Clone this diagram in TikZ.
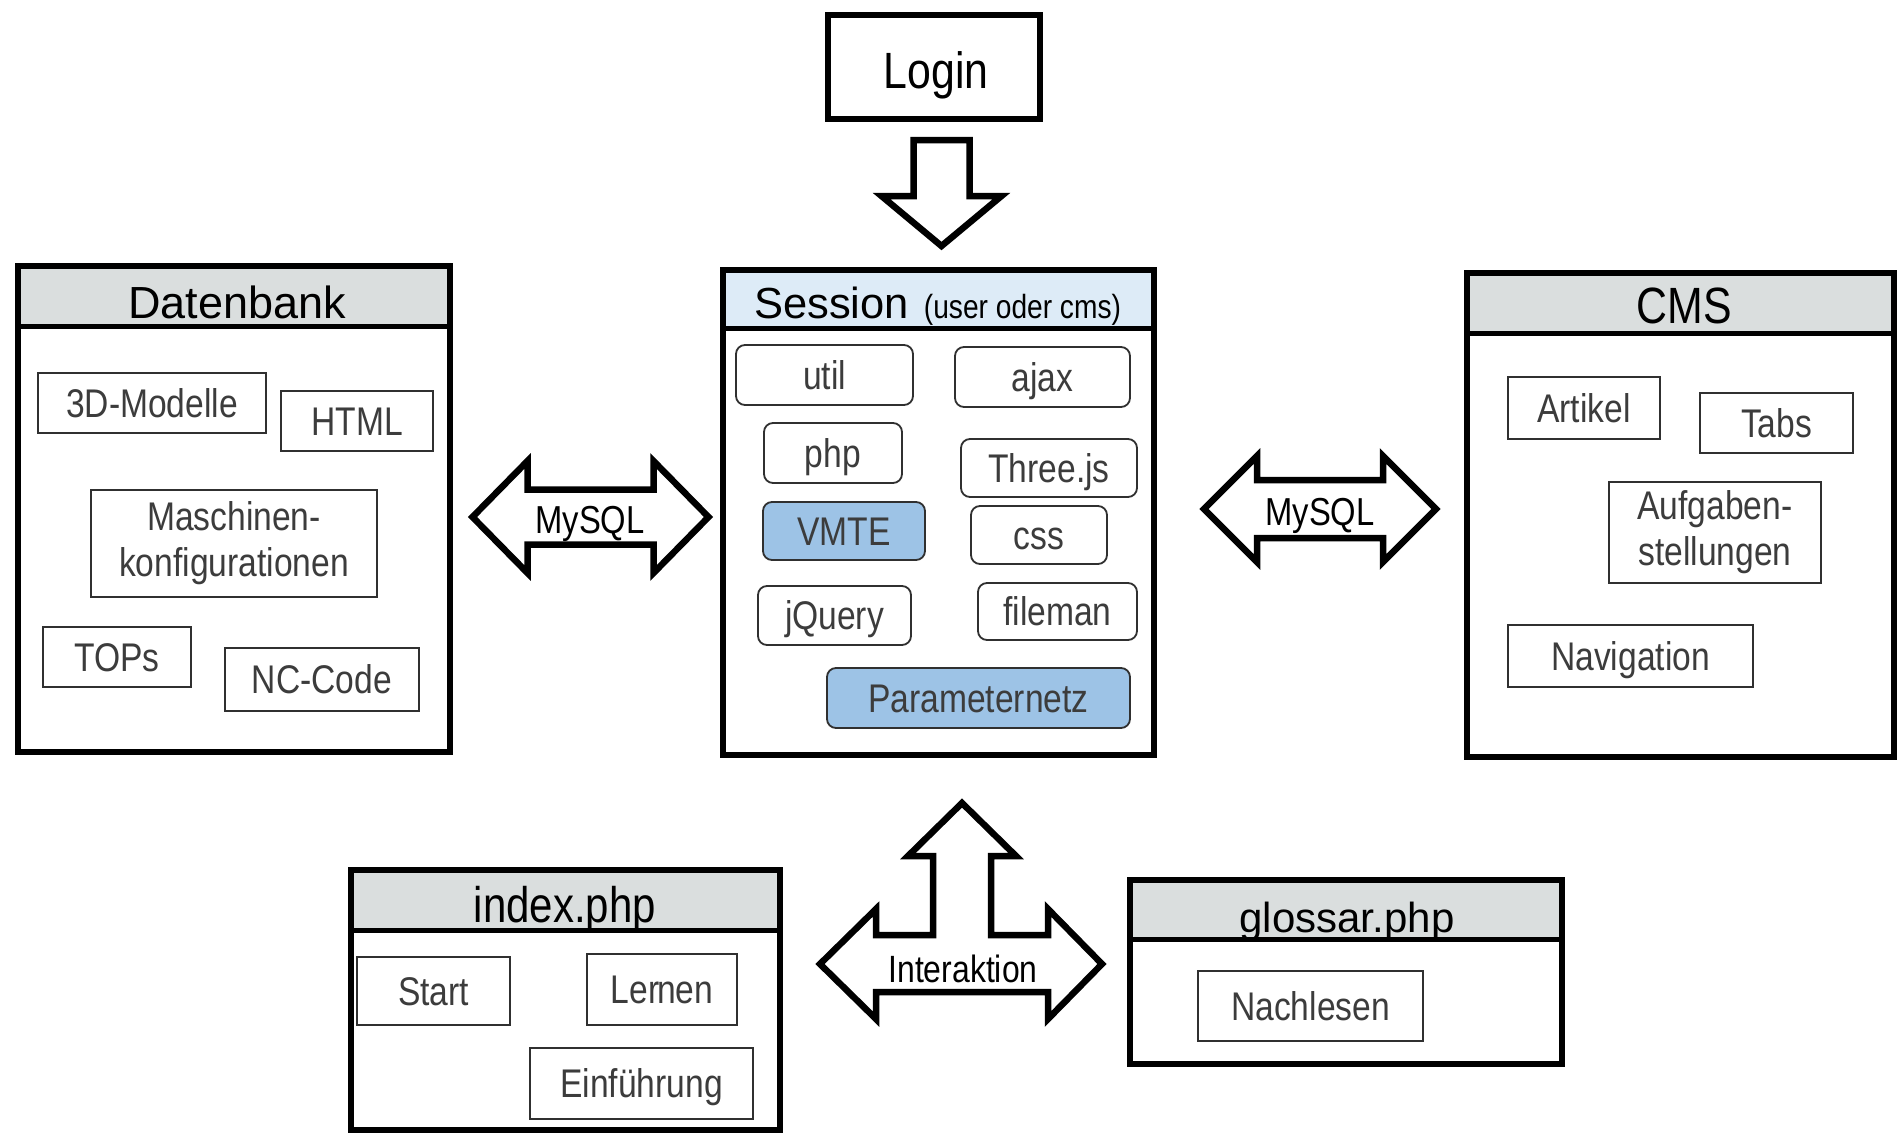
\documentclass[tikz,border=0pt]{standalone}
\usepackage{fontspec}
\setmainfont{Liberation Sans}
\newfontfamily\narrowsans{Liberation Sans}[FakeStretch=0.84]
\usetikzlibrary{calc}

\definecolor{headgray}{HTML}{DADEDE}
\definecolor{headblue}{HTML}{DDEBF7}
\definecolor{itemblue}{HTML}{9DC3E6}
\definecolor{itemtext}{HTML}{3C3C3C}
\definecolor{itemline}{HTML}{303030}

\newcommand\dgItemFont{\narrowsans\fontsize{40}{46}\selectfont}

\begin{document}
\begin{tikzpicture}[x=1pt,y=-1pt,
  panel/.style={draw=black, line width=6pt, inner sep=0pt, rectangle},
  header/.style n args={2}{path picture={
      \fill[#1] (path picture bounding box.north west) rectangle
        ([yshift=-#2]path picture bounding box.north east);
      \draw[line width=5pt] ([yshift=-#2]path picture bounding box.north west) --
        ([yshift=-#2]path picture bounding box.north east);}},
  title/.style={anchor=base, inner sep=0pt, text=black},
  item/.style={draw=itemline, line width=1.8pt, inner sep=0pt, text=itemtext,
    font=\dgItemFont, text height=28.6pt, text depth=0pt},
  itemtwo/.style={draw=itemline, line width=1.8pt, inner sep=0pt, text=itemtext,
    font=\dgItemFont, align=center},
  ritem/.style={item, rounded corners=9pt},
  bitem/.style={ritem, fill=itemblue},
  blockarrow/.style={draw=black, fill=white, line width=6.5pt, line join=miter},
  arrowtext/.style={anchor=base, inner sep=0pt, font=\narrowsans\fontsize{39}{44}\selectfont},
]
\fill[white] (0,0) rectangle (1899,1133);
\useasboundingbox (0,0) rectangle (1899,1133);

% ---------- Login ----------
\node[panel, minimum width=212pt, minimum height=104pt] (login) at (934,67) {};
\node[title, font=\narrowsans\fontsize{51}{56}\selectfont] (logintxt) at (936,88) {Login};

% arrow from login down to the session
\coordinate (loginarrow) at (941.5,140);
\begin{scope}[shift={(loginarrow)}]
  \draw[blockarrow] (-28,0) -- (28,0) -- (28,56) -- (60,56) -- (0,106)
    -- (-60,56) -- (-28,56) -- cycle;
\end{scope}

% ---------- Datenbank ----------
\node[panel, header={headgray}{60pt}, minimum width=432pt, minimum height=486pt] (db) at (234,509) {};
\node[title, font=\fontsize{45}{50}\selectfont] (dbtitle) at (237,318) {Datenbank};
\node[item, minimum width=228pt, minimum height=60pt] (modelle) at (152,403) {3D-Modelle};
\node[item, minimum width=152pt, minimum height=60pt] (html) at (357,421) {HTML};
\node[itemtwo, minimum width=286pt, minimum height=107pt] (masch) at (234,543.5) {Maschinen-\\konfigurationen};
\node[item, minimum width=148pt, minimum height=60pt] (tops) at (117,657) {TOPs};
\node[item, minimum width=194pt, minimum height=63pt] (nccode) at (322,679.5) {NC-Code};

% ---------- Session ----------
\node[panel, header={headblue}{58pt}, minimum width=431pt, minimum height=485pt] (session) at (938.5,512.5) {};
\node[anchor=base west, inner sep=0pt] (sessiontitle) at (754,318)
  {\fontsize{43.5}{48}\selectfont Session\hspace{15pt}{\narrowsans\fontsize{33.5}{38}\selectfont(user oder cms)}};
\node[ritem, minimum width=177pt, minimum height=60pt] (util) at (824.5,375) {util};
\node[ritem, minimum width=175pt, minimum height=60pt] (ajax) at (1042.5,377) {ajax};
\node[ritem, minimum width=138pt, minimum height=60pt] (php) at (833,453) {php};
\node[ritem, minimum width=176pt, minimum height=58pt] (threejs) at (1049,468) {Three.js};
\node[bitem, minimum width=162pt, minimum height=58pt] (vmte) at (844,531) {VMTE};
\node[ritem, minimum width=136pt, minimum height=58pt] (css) at (1039,535) {css};
\node[ritem, minimum width=153pt, minimum height=59pt] (jquery) at (834.5,615.5) {jQuery};
\node[ritem, minimum width=159pt, minimum height=57pt] (fileman) at (1057.5,611.5) {fileman};
\node[bitem, minimum width=303pt, minimum height=60pt] (paramnetz) at (978.5,698) {Parameternetz};

% ---------- CMS ----------
\node[panel, header={headgray}{60pt}, minimum width=427pt, minimum height=484pt] (cms) at (1680.5,515) {};
\node[title, font=\narrowsans\fontsize{51}{56}\selectfont] (cmstitle) at (1684,323) {CMS};
\node[item, minimum width=152pt, minimum height=62pt] (artikel) at (1584,408) {Artikel};
\node[item, minimum width=153pt, minimum height=60pt] (tabs) at (1776.5,423) {Tabs};
\node[itemtwo, minimum width=212pt, minimum height=101pt] (aufgaben) at (1715,532.5) {Aufgaben-\\stellungen};
\node[item, minimum width=245pt, minimum height=62pt] (navigation) at (1630.5,656) {Navigation};

% ---------- MySQL links between the panels ----------
\coordinate (mysqlleft) at (590.5,517);
\begin{scope}[shift={(mysqlleft)}]
  \draw[blockarrow] (-118,0) -- (-63,-56) -- (-63,-27.5) -- (63,-27.5) -- (63,-56)
    -- (118,0) -- (63,56) -- (63,27.5) -- (-63,27.5) -- (-63,56) -- cycle;
\end{scope}
\node[arrowtext] (mysqlltxt) at (590,533) {MySQL};

\coordinate (mysqlright) at (1320,509);
\begin{scope}[shift={(mysqlright)}]
  \draw[blockarrow] (-116,0) -- (-63,-53) -- (-63,-29) -- (63,-29) -- (63,-53)
    -- (116,0) -- (63,53) -- (63,29) -- (-63,29) -- (-63,53) -- cycle;
\end{scope}
\node[arrowtext] (mysqlrtxt) at (1320,525) {MySQL};

% ---------- index.php ----------
\node[panel, header={headgray}{60pt}, minimum width=429pt, minimum height=260pt] (index) at (565.5,1000) {};
\node[title, font=\narrowsans\fontsize{50}{55}\selectfont] (indextitle) at (565,922) {index.php};
\node[item, minimum width=153pt, minimum height=68pt] (start) at (433.5,991) {Start};
\node[item, minimum width=150pt, minimum height=71pt] (lernen) at (662,989.5) {Ler\kern-0.06em nen};
\node[item, minimum width=223pt, minimum height=71pt] (einf) at (641.5,1083.5) {Einführung};

% ---------- glossar.php ----------
\node[panel, header={headgray}{59pt}, minimum width=432pt, minimum height=184pt] (glossar) at (1346,972) {};
\node[title, font=\fontsize{42}{46}\selectfont] (glossartitle) at (1347,932) {glossar.php};
\node[item, minimum width=225pt, minimum height=70pt] (nachlesen) at (1310.5,1006) {Nachlesen};

% ---------- Interaktion (three-way arrow) ----------
\coordinate (interakt) at (962,964);
\begin{scope}[shift={(interakt)}]
  \draw[blockarrow] (-142,0) -- (-86,-55) -- (-86,-29) -- (-29,-29) -- (-29,-108)
    -- (-54,-108) -- (0,-161) -- (54,-108) -- (29,-108) -- (29,-29) -- (86,-29)
    -- (86,-55) -- (140,0) -- (86,55) -- (86,28) -- (-86,28) -- (-86,55) -- cycle;
\end{scope}
\node[arrowtext, font=\narrowsans\fontsize{38}{42}\selectfont] (interakttxt) at (963,982) {Interaktion};

\end{tikzpicture}
\end{document}
